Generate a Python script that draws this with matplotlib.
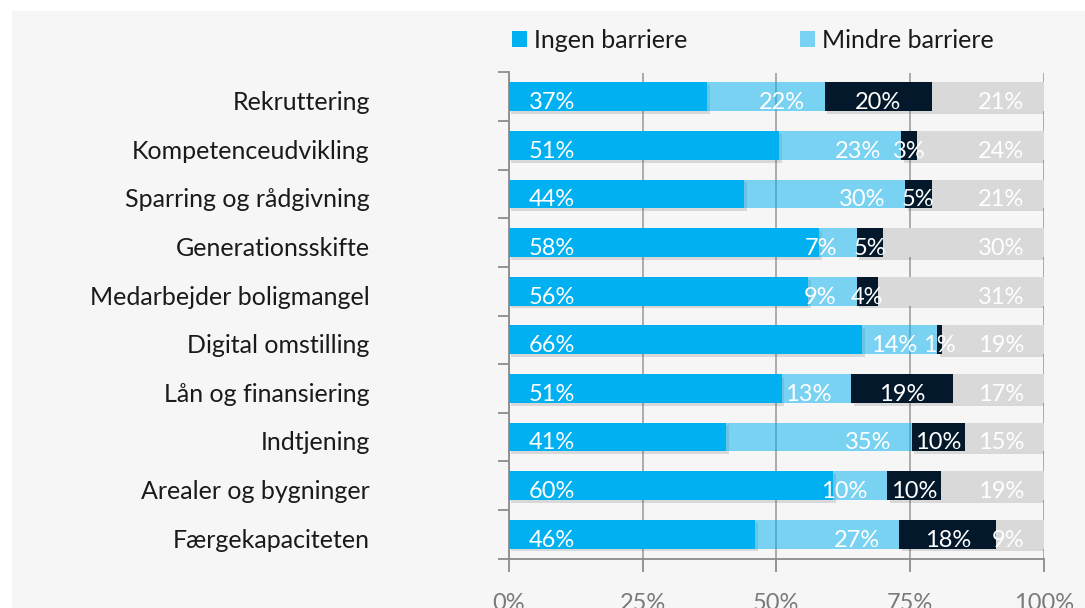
import matplotlib
matplotlib.use("Agg")
import matplotlib.pyplot as plt
import matplotlib.patheffects as pe
from matplotlib.patches import Rectangle
from matplotlib.ticker import FixedLocator
import numpy as np

categories = ["Rekruttering", "Kompetenceudvikling", "Sparring og rådgivning",
              "Generationsskifte", "Medarbejder boligmangel", "Digital omstilling",
              "Lån og finansiering", "Indtjening", "Arealer og bygninger",
              "Færgekapaciteten"]
ingen = [37, 51, 44, 58, 56, 66, 51, 41, 60, 46]
mindre = [22, 23, 30, 7, 9, 14, 13, 35, 10, 27]
stor = [20, 3, 5, 5, 4, 1, 19, 10, 10, 18]
ved_ikke = [21, 24, 21, 30, 31, 19, 17, 15, 19, 9]
series_names = ["Ingen barriere", "Mindre barriere", "Stor barriere", "Ved ikke"]
x_ticks = [0, 25, 50, 75, 100]
x_ticklabels = ["0%", "25%", "50%", "75%", "100%"]

plt.rcParams["font.family"] = ["Lato", "DejaVu Sans"]

W, H = 1085, 608
fig = plt.figure(figsize=(W / 100, H / 100), dpi=100)
fig.patch.set_facecolor("white")
fig.add_artist(Rectangle((12 / W, 0), 1, 1 - 11 / H, transform=fig.transFigure,
                         facecolor="#F6F6F6", edgecolor="none", zorder=-10))

ax = fig.add_axes([508.7 / W, 1 - 558.5 / H, (1044 - 508.7) / W, (558.5 - 72.5) / H])
ax.set_facecolor("none")

raw = np.array([ingen, mindre, stor, ved_ikke], dtype=float)
vals = raw / raw.sum(axis=0) * 100   # 100% stacked
y = np.arange(len(categories))

# (colour, alpha, label alignment, shadow)
styles = [("#00B0F0", 1.0, "left", True),
          ("#00B0F0", 0.5, "right", False),
          ("#03192B", 1.0, "center", True),
          ("#D9D9D9", 1.0, "right", True)]

shadow = [pe.SimplePatchShadow(offset=(2, -2), shadow_rgbFace="#555555", alpha=0.18), pe.Normal()]
left = np.zeros(len(categories))
proxies = []
for k, (color, alpha, align, shad) in enumerate(styles):
    bars = ax.barh(y, vals[k], left=left, height=0.59, color=color, alpha=alpha, zorder=3)
    if shad:
        for b in bars:
            b.set_path_effects(shadow)
    proxies.append(Rectangle((0, 0), 1, 1, facecolor=color, alpha=alpha, edgecolor="none"))
    for i in range(len(categories)):
        txt = "%d%%" % raw[k, i]
        if align == "left":
            xpos = left[i] + 3.7
        elif align == "right":
            xpos = left[i] + vals[k, i] - 3.7
        else:
            xpos = left[i] + vals[k, i] / 2
        ax.text(xpos, y[i] + 0.12, txt, ha=align, va="center", color="white",
                fontsize=17, zorder=5)
    left += vals[k]

ax.set_xlim(0, 100)
ax.set_ylim(len(categories) - 0.5, -0.5)

ax.xaxis.set_major_locator(FixedLocator(x_ticks))
ax.set_xticklabels(x_ticklabels)
ax.grid(axis="x", color="#A6A6A6", linewidth=1.3, zorder=1)
ax.set_axisbelow(True)

# major y ticks are invisible, nudged a little so the labels sit like the original
ax.set_yticks(y + 0.08)
ax.set_yticklabels(categories)
ax.yaxis.set_minor_locator(FixedLocator(np.arange(-0.5, len(categories), 1.0)))

for s in ["top", "right"]:
    ax.spines[s].set_visible(False)
for s in ["left", "bottom"]:
    ax.spines[s].set_color("#8C8C8C")
    ax.spines[s].set_linewidth(1.3)

ax.tick_params(axis="y", which="major", length=0, pad=100, labelsize=18, labelcolor="#1A1A1A")
ax.tick_params(axis="y", which="minor", length=8, width=1.3, color="#8C8C8C", direction="out")
ax.tick_params(axis="x", which="major", length=9, width=1.3, color="#8C8C8C",
               pad=16, labelsize=17, labelcolor="#7A7A7A")

fig.legend(handles=proxies[:2], labels=series_names[:2], loc="center left",
           bbox_to_anchor=(499 / W, 1 - 40 / H), ncol=2, frameon=False,
           fontsize=18, handlelength=0.6, handleheight=0.6, handletextpad=0.3,
           columnspacing=4.5, borderpad=0, labelcolor="#1A1A1A")

fig.savefig("out.png", dpi=100, facecolor=fig.get_facecolor())
